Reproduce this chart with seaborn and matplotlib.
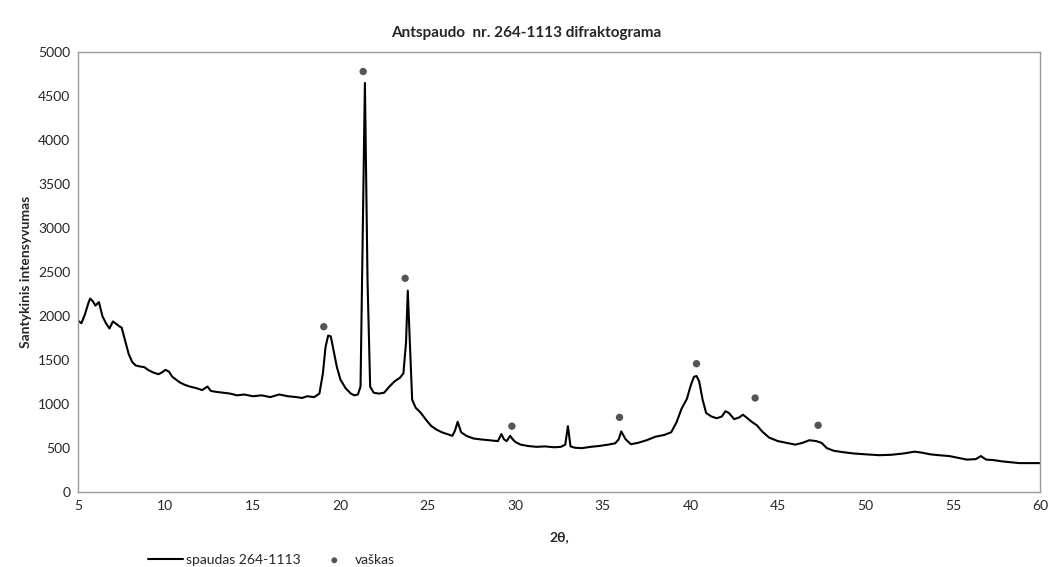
import pandas as pd
import matplotlib.pyplot as plt
import seaborn as sns

# diffractogram trace (rows of 10, aligned)
two_theta = [5.0, 5.2, 5.4, 5.6, 5.7, 5.85, 6.0, 6.2, 6.4, 6.6,
             6.8, 7.0, 7.2, 7.4, 7.5, 7.7, 7.9, 8.1, 8.3, 8.5,
             8.8, 9.0, 9.3, 9.6, 9.8, 10.0, 10.2, 10.4, 10.6, 10.8,
             11.1, 11.4, 11.8, 12.1, 12.4, 12.6, 12.9, 13.3, 13.7, 14.1,
             14.5, 15.0, 15.5, 16.0, 16.5, 17.0, 17.5, 17.8, 18.1, 18.5,
             18.8, 19.0, 19.15, 19.3, 19.45, 19.6, 19.8, 20.0, 20.3, 20.6,
             20.8, 21.0, 21.15, 21.25, 21.4, 21.55, 21.7, 21.9, 22.2, 22.5,
             22.8, 23.1, 23.4, 23.6, 23.75, 23.85, 23.95, 24.1, 24.3, 24.6,
             24.9, 25.2, 25.5, 25.8, 26.1, 26.4, 26.55, 26.7, 26.9, 27.2,
             27.6, 28.0, 28.5, 29.0, 29.2, 29.35, 29.5, 29.7, 29.85, 30.0,
             30.3, 30.7, 31.2, 31.7, 32.2, 32.6, 32.85, 33.0, 33.15, 33.4,
             33.8, 34.3, 34.8, 35.3, 35.7, 35.9, 36.05, 36.3, 36.6, 37.0,
             37.5, 38.0, 38.5, 38.9, 39.2, 39.5, 39.8, 40.0, 40.2, 40.35,
             40.5, 40.7, 40.9, 41.2, 41.5, 41.8, 42.0, 42.2, 42.5, 42.8,
             43.0, 43.2, 43.5, 43.8, 44.1, 44.5, 45.0, 45.5, 46.0, 46.4,
             46.8, 47.2, 47.5, 47.8, 48.2, 48.7, 49.3, 50.0, 50.8, 51.5,
             52.2, 52.8, 53.2, 53.7, 54.2, 54.8, 55.3, 55.8, 56.3, 56.6,
             56.9, 57.3, 57.8, 58.3, 58.8, 59.3, 60.0]
intensity = [1950, 1920, 2020, 2150, 2200, 2170, 2120, 2160, 2000, 1920,
             1860, 1940, 1910, 1880, 1870, 1720, 1570, 1480, 1440, 1430,
             1420, 1390, 1360, 1340, 1360, 1390, 1370, 1310, 1280, 1250,
             1220, 1200, 1180, 1160, 1200, 1150, 1140, 1130, 1120, 1100,
             1110, 1090, 1100, 1080, 1110, 1090, 1080, 1070, 1090, 1080,
             1120, 1350, 1650, 1780, 1770, 1620, 1420, 1280, 1180, 1120,
             1100, 1110, 1200, 2600, 4650, 2400, 1200, 1130, 1120, 1130,
             1200, 1260, 1300, 1350, 1700, 2290, 1800, 1050, 960, 900,
             820, 750, 710, 680, 660, 640, 700, 800, 680, 640,
             610, 600, 590, 580, 660, 600, 580, 640, 600, 570,
             540, 525, 515, 520, 510, 515, 540, 750, 520, 505,
             500, 515, 525, 540, 555, 600, 690, 600, 545, 560,
             590, 630, 650, 680, 790, 950, 1060, 1200, 1310, 1320,
             1260, 1050, 900, 860, 840, 860, 920, 900, 830, 850,
             880, 850, 800, 760, 690, 620, 580, 560, 540, 560,
             590, 580, 560, 500, 470, 455, 440, 430, 420, 425,
             440, 460, 450, 430, 420, 410, 390, 370, 375, 410,
             370, 365, 350, 340, 330, 330, 330]

# wax (vaškas) peak markers
wax_theta = [19.05, 21.3, 23.7, 29.8, 35.95, 40.35, 43.7, 47.3]
wax_height = [1880, 4780, 2430, 750, 850, 1460, 1070, 760]

trace = pd.DataFrame({'theta': two_theta, 'I': intensity})
marks = pd.DataFrame({'theta': wax_theta, 'I': wax_height})

sns.set_style("white")
plt.rcParams['font.family'] = ['Lato', 'DejaVu Sans']

fig = plt.figure(figsize=(10.53, 5.67), dpi=100)
ax = fig.add_axes([0.074, 0.132, 0.914, 0.776])

sns.lineplot(data=trace, x='theta', y='I', color='black', linewidth=1.5,
             ax=ax, label='spaudas 264-1113')
sns.scatterplot(data=marks, x='theta', y='I', color='#555555', s=28,
                edgecolor='none', ax=ax, label='vaškas')

ax.set_xlim(5, 60)
ax.set_ylim(0, 5000)
ax.set_xticks(range(5, 61, 5))
ax.set_yticks(range(0, 5001, 500))
ax.tick_params(labelsize=10, length=4, color='#999999', direction='inout')
for s in ax.spines.values():
    s.set_color('#999999')
    s.set_linewidth(1.0)

ax.set_xlabel('2θ,', fontsize=10, fontweight='bold', labelpad=14)
ax.set_ylabel('Santykinis intensyvumas', fontsize=10, fontweight='bold')
fig.suptitle('Antspaudo  nr. 264-1113 difraktograma', fontsize=11,
             fontweight='bold', y=0.955)

ax.legend(loc='upper left', bbox_to_anchor=(0.06, -0.112), ncol=2, frameon=False,
          fontsize=10, handlelength=2.5, handletextpad=0.2, columnspacing=1.2,
          markerscale=0.8)

fig.savefig('out.png', dpi=100)
